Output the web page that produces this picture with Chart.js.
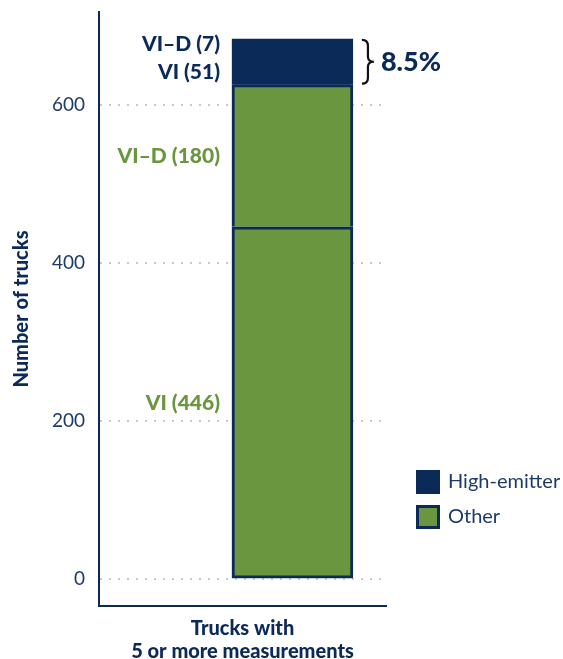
<!DOCTYPE html>
<html>
<head>
<meta charset="utf-8">
<script src="https://cdn.jsdelivr.net/npm/chart.js@4.4.1/dist/chart.umd.min.js"></script>
<style>
html,body{margin:0;padding:0;background:#fff;}
#wrap{width:563px;height:659px;position:relative;}
</style>
</head>
<body>
<div id="wrap"><canvas id="c" width="563" height="659"></canvas></div>
<script>
// ---- data ----
const category = "Trucks with 5 or more measurements";
const segmentNames = ["VI", "VI\u2013D", "VI", "VI\u2013D"];
const segmentValues = [446, 180, 51, 7];
const segmentGroups = ["Other", "Other", "High-emitter", "High-emitter"];
const legendNames = ["High-emitter", "Other"];
const yTicks = [0, 200, 400, 600];
const shareLabel = "8.5%";

const NAVY = "#0b2a57";
const GREEN = "#6a963f";
const TEXT = "#1d3b68";
const BAR_X = 0.674;
const FONT = "Lato, 'Open Sans', sans-serif";

const datasets = segmentValues.map((v, i) => {
  const grp = segmentGroups[i];
  return {
    label: segmentNames[i] + " (" + v + ")",
    data: [{x: BAR_X, y: v}],
    backgroundColor: grp === "Other" ? GREEN : NAVY,
    borderColor: NAVY,
    borderWidth: i === 0 ? {top: 3, left: 3, right: 3, bottom: 3} : {top: 3, left: 3, right: 3, bottom: 0},
    borderSkipped: false,
    barThickness: 121,
    labelColor: grp === "Other" ? GREEN : NAVY
  };
});

const labelNudge = [0, 0, 8, 3];

const annot = {
  id: "annot",
  afterDatasetsDraw(chart) {
    const ctx = chart.ctx;
    const ys = chart.scales.y;
    const xs = chart.scales.x;
    ctx.save();
    // segment labels
    ctx.font = "900 21px " + FONT;
    ctx.textAlign = "right";
    ctx.textBaseline = "middle";
    let base = 0;
    chart.data.datasets.forEach((ds, i) => {
      const v = ds.data[0].y;
      const mid = base + v / 2;
      base += v;
      ctx.fillStyle = ds.labelColor;
      ctx.fillText(ds.label, 220, ys.getPixelForValue(mid) + labelNudge[i]);
    });
    // bracket for high-emitters
    const hiStart = segmentValues[0] + segmentValues[1];
    const total = segmentValues.reduce((a, b) => a + b, 0);
    const yTop = ys.getPixelForValue(total);
    const yBot = ys.getPixelForValue(hiStart);
    const bx = xs.getPixelForValue(BAR_X) + 60.5 + 9;
    const ym = (yTop + yBot) / 2;
    ctx.strokeStyle = "#111";
    ctx.lineWidth = 2.2;
    ctx.beginPath();
    ctx.moveTo(bx, yTop + 1);
    ctx.quadraticCurveTo(bx + 6, yTop + 1, bx + 6, yTop + 7);
    ctx.lineTo(bx + 6, ym - 5);
    ctx.quadraticCurveTo(bx + 6, ym, bx + 12, ym);
    ctx.quadraticCurveTo(bx + 6, ym, bx + 6, ym + 5);
    ctx.lineTo(bx + 6, yBot - 7);
    ctx.quadraticCurveTo(bx + 6, yBot - 1, bx, yBot - 1);
    ctx.stroke();
    ctx.fillStyle = NAVY;
    ctx.font = "900 27px " + FONT;
    ctx.textAlign = "left";
    ctx.fillText(shareLabel, bx + 19, ym + 1);
    // legend
    const lx = 416, ly = [470, 505];
    legendNames.forEach((n, i) => {
      ctx.fillStyle = NAVY;
      ctx.fillRect(lx, ly[i], 24, 24);
      if (n === "Other") {
        ctx.fillStyle = GREEN;
        ctx.fillRect(lx + 3, ly[i] + 3, 18, 18);
      }
      ctx.fillStyle = TEXT;
      ctx.font = "20px " + FONT;
      ctx.textAlign = "left";
      ctx.textBaseline = "middle";
      ctx.fillText(n, lx + 32, ly[i] + 12);
    });
    ctx.restore();
  }
};

new Chart(document.getElementById("c"), {
  type: "bar",
  data: {datasets},
  options: {
    responsive: false,
    animation: false,
    devicePixelRatio: 1,
    layout: {padding: {top: 12, right: 177, bottom: 0, left: 0}},
    plugins: {legend: {display: false}, tooltip: {enabled: false}},
    scales: {
      x: {
        type: "linear",
        stacked: true,
        offset: false,
        min: 0, max: 1,
        ticks: {display: false},
        grid: {display: false, drawTicks: false},
        border: {display: true, color: NAVY, width: 2},
        title: {display: true, text: ["Trucks with", "5 or more measurements"], color: NAVY,
                font: {family: FONT, size: 20, weight: 900, lineHeight: 1.15}, padding: {top: 14, bottom: -4}},
        afterFit(s) { s.height = 53; s.paddingLeft = 0; s.paddingRight = 0; }
      },
      y: {
        stacked: true,
        min: -34, max: 718,
        afterBuildTicks(s) { s.ticks = yTicks.map(v => ({value: v})); },
        ticks: {color: TEXT, padding: 14, font: {family: FONT, size: 19}},
        grid: {drawTicks: false, color: "#c9c9c9", lineWidth: 2},
        border: {display: true, color: NAVY, width: 2, dash: [2, 7]},
        title: {display: true, text: "Number of trucks", color: NAVY,
                font: {family: FONT, size: 20, weight: 900}, padding: {top: 10, bottom: 0}},
        afterFit(s) { s.width = 99; s.paddingTop = 0; s.paddingBottom = 0; }
      }
    }
  },
  plugins: [annot]
});
</script>
</body>
</html>
